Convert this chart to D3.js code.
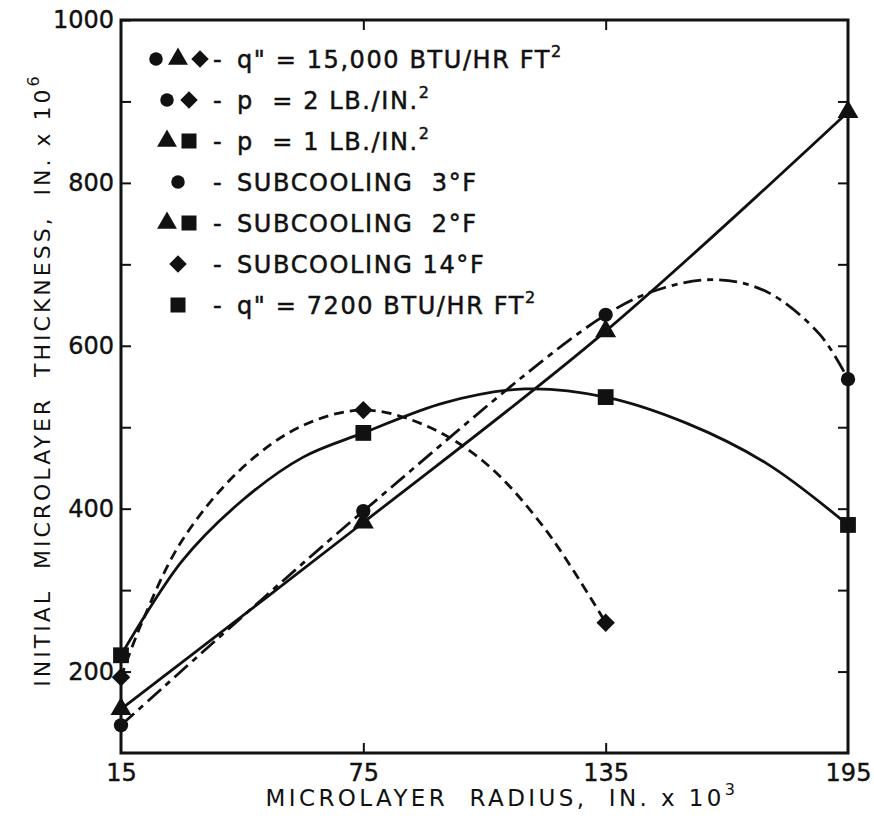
<!DOCTYPE html>
<html>
<head>
<meta charset="utf-8">
<script src="https://cdn.jsdelivr.net/npm/d3@7"></script>
<style>
  body { margin: 0; background: #fff; }
  text { font-family: "DejaVu Sans", sans-serif; fill: #111; }
</style>
</head>
<body>
<svg id="chart" width="874" height="816"></svg>
<script>
// measured points (radius in in. x 10^3, thickness in in. x 10^6)
var radius = [15, 75, 135, 195];
var circlePts = [134, 397, 638, 559];   // p=2, subcooling 3F
var trianglePts = [154, 383, 618, 887]; // p=1, subcooling 2F
var diamondPts = [193, 521, 260];       // p=2, subcooling 14F
var squarePts = [220, 493, 537, 380];   // q"=7200

// hand drawn curves
var circleCurveX = [15, 75, 135, 150, 163, 175, 188, 195];
var circleCurveY = [134, 397, 638, 672, 681, 666, 614, 559];
var triangleCurveX = [15, 75, 135, 195];
var triangleCurveY = [154, 383, 618, 887];
var diamondCurveX = [15, 20, 30, 45, 60, 75, 90, 105, 120, 135];
var diamondCurveY = [193, 258, 360, 450, 502, 521, 503, 457, 375, 260];
var squareCurveX = [15, 30, 45, 60, 75, 95, 115, 135, 155, 175, 195];
var squareCurveY = [220, 335, 410, 463, 493, 530, 547, 537, 505, 455, 380];

var xTicks = [15, 75, 135, 195];
var yTicks = [100, 200, 300, 400, 500, 600, 700, 800, 900, 1000];
var yLabels = [200, 400, 600, 800, 1000];

var legendSymbols = [["circle", "triangle", "diamond"], ["circle", "diamond"], ["triangle", "square"],
                     ["circle"], ["triangle", "square"], ["diamond"], ["square"]];
var legendText = ['q" = 15,000 BTU/HR FT', 'p  = 2 LB./IN.', 'p  = 1 LB./IN.',
                  'SUBCOOLING  3°F', 'SUBCOOLING  2°F', 'SUBCOOLING 14°F', 'q" = 7200 BTU/HR FT'];
var legendSup = ["2", "2", "2", "", "", "", "2"];

var svg = d3.select("#chart");

var x = d3.scaleLinear().domain([15, 195]).range([121, 848]);
var y = d3.scaleLinear().domain([100, 1000]).range([753, 20]);

function shape(name, size) {
  var t = {circle: d3.symbolCircle, triangle: d3.symbolTriangle,
           diamond: d3.symbolSquare, square: d3.symbolSquare}[name];
  return d3.symbol().type(t).size(size)();
}
var sizes = {circle: 160, triangle: 190, diamond: 170, square: 250};

// frame
svg.append("rect")
  .attr("x", x(15)).attr("y", y(1000))
  .attr("width", x(195) - x(15)).attr("height", y(100) - y(1000))
  .attr("fill", "none").attr("stroke", "#111").attr("stroke-width", 3);

// axes (ticks point inward)
var leftAx = svg.append("g").attr("transform", "translate(" + x(15) + ",0)")
  .call(d3.axisLeft(y).tickValues(yTicks.slice(1)).tickSizeInner(-10).tickSizeOuter(0).tickPadding(7)
    .tickFormat(function(d){ return yLabels.indexOf(d) >= 0 ? d : ""; }));
var rightAx = svg.append("g").attr("transform", "translate(" + x(195) + ",0)")
  .call(d3.axisRight(y).tickValues(yTicks.slice(1, -1)).tickSizeInner(-10).tickSizeOuter(0).tickFormat(""));
var bottomAx = svg.append("g").attr("transform", "translate(0," + y(100) + ")")
  .call(d3.axisBottom(x).tickValues(xTicks).tickSizeInner(-10).tickSizeOuter(0).tickPadding(8));
var topAx = svg.append("g").attr("transform", "translate(0," + y(1000) + ")")
  .call(d3.axisTop(x).tickValues([75, 135]).tickSizeInner(-10).tickSizeOuter(0).tickFormat(""));

[leftAx, rightAx, bottomAx, topAx].forEach(function(a){
  a.select(".domain").remove();
  a.selectAll("line").attr("stroke", "#111").attr("stroke-width", 2);
  a.selectAll("text").attr("font-size", 24).style("font-family", "DejaVu Sans")
    .attr("fill", "#111").attr("stroke", "#111").attr("stroke-width", 0.4);
});
bottomAx.selectAll(".tick").filter(function(d){ return d == 15 || d == 195; }).select("line").remove();
bottomAx.selectAll("text").attr("dy", "0.85em");

// curves
function drawCurve(xs, ys, dash) {
  var line = d3.line().x(function(d){ return x(d[0]); }).y(function(d){ return y(d[1]); })
    .curve(d3.curveCatmullRom.alpha(0.5));
  svg.append("path").datum(d3.zip(xs, ys))
    .attr("d", line).attr("fill", "none").attr("stroke", "#111")
    .attr("stroke-width", 2.8).attr("stroke-dasharray", dash);
}
drawCurve(triangleCurveX, triangleCurveY, null);
drawCurve(squareCurveX, squareCurveY, null);
drawCurve(circleCurveX, circleCurveY, "18,6,6,6");
drawCurve(diamondCurveX, diamondCurveY, "10,6");

// markers
function drawMarkers(xs, ys, name) {
  svg.selectAll(null).data(d3.zip(xs, ys)).enter().append("path")
    .attr("d", shape(name, sizes[name]))
    .attr("transform", function(d){
      return "translate(" + x(d[0]) + "," + y(d[1]) + ")" + (name == "diamond" ? " rotate(45)" : "");
    })
    .attr("fill", "#111");
}
drawMarkers(radius, squarePts, "square");
drawMarkers(radius.slice(0, 3), diamondPts, "diamond");
drawMarkers(radius, trianglePts, "triangle");
drawMarkers(radius, circlePts, "circle");

// legend
var leg = svg.append("g");
legendText.forEach(function(t, i){
  var base = 68 + i * 41;
  var syms = legendSymbols[i];
  syms.forEach(function(s, j){
    var cx = 178 + (j - (syms.length - 1) / 2) * 22;
    leg.append("path").attr("d", shape(s, sizes[s] * 0.9))
      .attr("transform", "translate(" + cx + "," + (base - 9) + ")" + (s == "diamond" ? " rotate(45)" : ""))
      .attr("fill", "#111");
  });
  leg.append("text").attr("x", 213).attr("y", base).attr("font-size", 24)
    .attr("stroke", "#111").attr("stroke-width", 0.5).text("-");
  var tx = leg.append("text").attr("x", 237).attr("y", base).attr("font-size", 24)
    .attr("letter-spacing", 1.6).attr("stroke", "#111").attr("stroke-width", 0.5)
    .style("white-space", "pre").text(t);
  if (legendSup[i]) {
    tx.append("tspan").attr("dy", -11).attr("font-size", 16).text(legendSup[i]);
  }
});

// axis titles
var xt = svg.append("text").attr("x", 502).attr("y", 806).attr("text-anchor", "middle")
  .attr("font-size", 23).attr("letter-spacing", 3.4).style("white-space", "pre")
  .text("MICROLAYER  RADIUS,  IN. x 10");
xt.append("tspan").attr("dy", -11).attr("font-size", 16).text("3");

var yt = svg.append("text").attr("transform", "translate(50,380) rotate(-90)").attr("text-anchor", "middle")
  .attr("font-size", 22).attr("letter-spacing", 3).style("white-space", "pre")
  .text("INITIAL  MICROLAYER  THICKNESS,  IN. x 10");
yt.append("tspan").attr("dy", -11).attr("font-size", 16).text("6");
</script>
</body>
</html>
